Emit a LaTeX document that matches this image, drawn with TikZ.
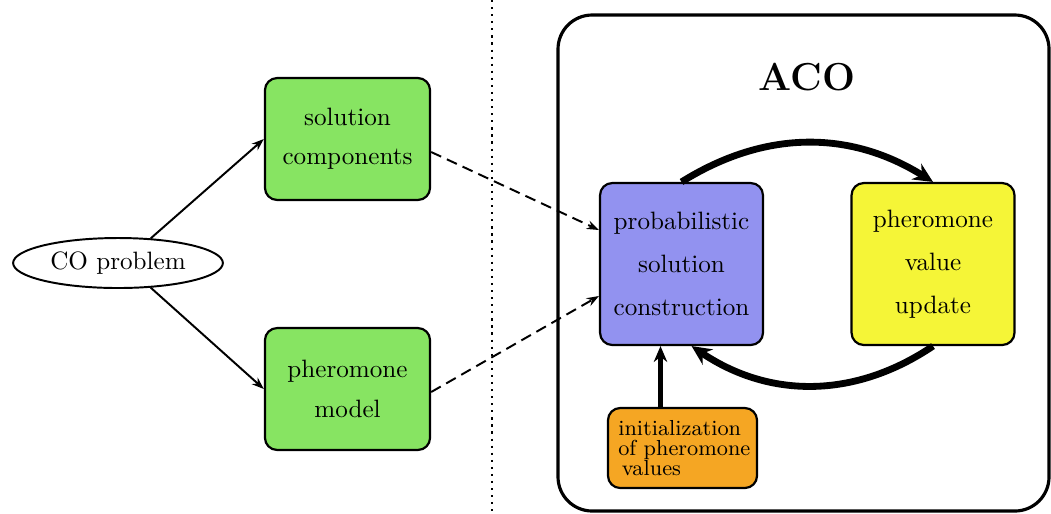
\documentclass[tikz,border=0pt]{standalone}
\usetikzlibrary{arrows.meta,calc,shapes.geometric}
\definecolor{boxgreen}{RGB}{135,228,98}
\definecolor{boxblue}{RGB}{146,146,240}
\definecolor{boxyellow}{RGB}{245,245,55}
\definecolor{boxorange}{RGB}{245,166,35}
\begin{document}
\begin{tikzpicture}[x=0.41pt,y=-0.41pt,
  box/.style={draw=black,line width=0.9pt,rounded corners=5pt,align=center,inner sep=0pt},
  gbox/.style={box,fill=boxgreen,minimum width=67.7pt,minimum height=50pt,font=\fontsize{10.3}{16}\selectfont},
  bigbox/.style={box,minimum width=66.8pt,minimum height=66.4pt,font=\fontsize{10.3}{17.6}\selectfont},
  thinarrow/.style={draw=black,line width=0.8pt,-{Stealth[length=5pt,width=3.6pt]}},
  dasharrow/.style={thinarrow,dash pattern=on 4.5pt off 2.6pt},
  looparrow/.style={draw=black,line width=2.8pt,-{Stealth[length=8pt,width=7.5pt]}},
  initarrow/.style={draw=black,line width=1.9pt,-{Stealth[length=6.5pt,width=5.5pt]}}]
\useasboundingbox (0,0) rectangle (1051,513);
% left part
\node[ellipse,draw=black,line width=0.8pt,fill=white,minimum width=86pt,minimum height=20.5pt,inner sep=0pt,font=\fontsize{10.3}{12}\selectfont] (CO) at (118,263) {CO problem};
\node[gbox] (sol) at (347.5,139) {solution\\components};
\node[gbox,font=\fontsize{10.3}{16.4}\selectfont] (pm) at (347.5,389) {pheromone\\model};
\draw[thinarrow] (CO.37) -- (sol.west);
\draw[thinarrow] (CO.-37) -- (pm.west);
% separator
\coordinate (dtop) at (492,0);
\coordinate (dbot) at (492,513);
\draw[dotted,line width=0.9pt] (dtop) -- (dbot);
% ACO frame
\draw[line width=1.3pt,rounded corners=14pt] (558,15) rectangle (1049,511);
\node[font=\fontsize{16}{18}\bfseries\selectfont] (aco) at (807,77) {ACO};
\node[bigbox,fill=boxblue] (prob) at (681.5,264) {probabilistic\\solution\\construction};
\node[bigbox,fill=boxyellow] (yel) at (933,264) {pheromone\\value\\update};
\node[box,fill=boxorange,minimum width=61.1pt,minimum height=32.8pt,align=left,font=\fontsize{8.9}{8.1}\selectfont] (init) at (682.5,448) {\hspace{1.5pt}initialization\\\hspace{1.5pt}of pheromone\\\hspace{3pt}values};
% connectors
\draw[dasharrow] ($(sol.east)+(0,13)$) -- ($(prob.west)+(0,-34)$);
\draw[dasharrow] ($(pm.east)+(0,3)$) -- ($(prob.west)+(0,32)$);
\draw[looparrow] (prob.north) to[bend left=32] (yel.north);
\draw[looparrow] (yel.south) to[bend left=34] (prob.-83);
\coordinate (ia) at ($(init.north)+(-22,0)$);
\draw[initarrow] (ia) -- (ia |- prob.south);
\end{tikzpicture}
\end{document}
